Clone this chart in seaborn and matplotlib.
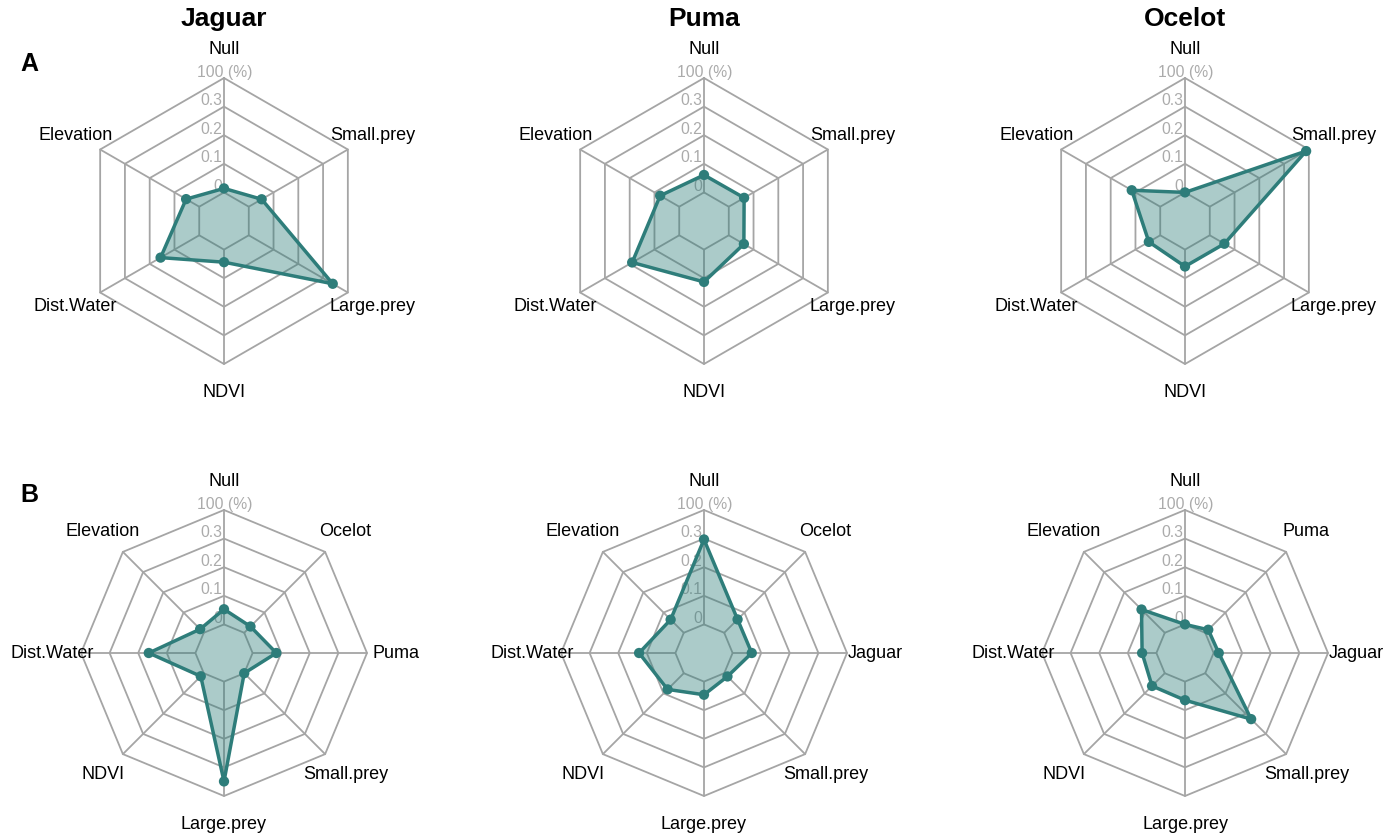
import numpy as np
import matplotlib
matplotlib.use("Agg")
import matplotlib.pyplot as plt
import seaborn as sns

# panel titles and row letters
species = ["Jaguar", "Puma", "Ocelot"]
rows = ["A", "B"]

# ring labels (inner to outer)
ring_labels = ["0", "0.1", "0.2", "0.3", "100 (%)"]
vmax = 0.4

# row A: habitat variables, counter-clockwise from top
vars_a = ["Null", "Elevation", "Dist.Water", "NDVI", "Large.prey", "Small.prey"]
jaguar_a = [0.014, 0.053, 0.156, 0.044, 0.339, 0.052]
puma_a = [0.061, 0.077, 0.190, 0.113, 0.061, 0.062]
ocelot_a = [0.000, 0.115, 0.046, 0.059, 0.059, 0.389]

# row B: habitat variables plus the other two cats
vars_b_jaguar = ["Null", "Elevation", "Dist.Water", "NDVI", "Large.prey", "Small.prey", "Puma", "Ocelot"]
jaguar_b = [0.053, 0.018, 0.163, 0.015, 0.349, 0.000, 0.083, 0.031]
vars_b_puma = ["Null", "Elevation", "Dist.Water", "NDVI", "Large.prey", "Small.prey", "Jaguar", "Ocelot"]
puma_b = [0.297, 0.065, 0.127, 0.080, 0.046, 0.016, 0.067, 0.066]
vars_b_ocelot = ["Null", "Elevation", "Dist.Water", "NDVI", "Large.prey", "Small.prey", "Jaguar", "Puma"]
ocelot_b = [0.000, 0.115, 0.050, 0.063, 0.065, 0.227, 0.018, 0.015]

panels = [
    [(vars_a, jaguar_a), (vars_a, puma_a), (vars_a, ocelot_a)],
    [(vars_b_jaguar, jaguar_b), (vars_b_puma, puma_b), (vars_b_ocelot, ocelot_b)],
]

sns.set_theme(style="white")
plt.rcParams["font.family"] = ["Liberation Sans", "DejaVu Sans"]

line_col = "#2e7d7a"
grid_col = "#a5a5a5"
tick_col = "#ababab"

W, H = 1398, 834
R = 143  # radius of outer ring in px
half = 1.3 * R
col_x = [224, 704, 1185]
row_y = [221, 653]

fig = plt.figure(figsize=(W / 100, H / 100), dpi=100)


def radar(ax, labels, values):
    n = len(labels)
    ang = np.pi / 2 + np.arange(n) * 2 * np.pi / n
    seg = len(ring_labels)
    # rings
    for k in range(1, seg + 1):
        r = k / seg
        xs = np.append(r * np.cos(ang), r * np.cos(ang[0]))
        ys = np.append(r * np.sin(ang), r * np.sin(ang[0]))
        ax.plot(xs, ys, color=grid_col, lw=1.3, zorder=1)
    # spokes from inner ring to outer ring
    r0 = 1 / seg
    for a in ang:
        ax.plot([r0 * np.cos(a), np.cos(a)], [r0 * np.sin(a), np.sin(a)],
                color=grid_col, lw=1.3, zorder=1)
    # ring labels on the top spoke
    for k, lab in enumerate(ring_labels, start=1):
        y = k / seg + 6 / R
        if lab == ring_labels[-1]:
            ax.text(1 / R, y, lab, ha="center", va="center", fontsize=11.3, color=tick_col, zorder=2)
        else:
            ax.text(-2 / R, y, lab, ha="right", va="center", fontsize=11.3, color=tick_col, zorder=2)
    # data polygon
    rr = r0 + (1 - r0) * np.asarray(values) / vmax
    px = rr * np.cos(ang)
    py = rr * np.sin(ang)
    ax.fill(px, py, color=line_col, alpha=0.4, lw=0, zorder=3)
    ax.plot(np.append(px, px[0]), np.append(py, py[0]), color=line_col, lw=2.5, zorder=4)
    sns.scatterplot(x=px, y=py, color=line_col, s=55, edgecolor="none", ax=ax, zorder=5)
    # variable labels
    for a, lab in zip(ang, labels):
        ax.text(1.2 * np.cos(a), 1.2 * np.sin(a), lab, ha="center", va="center", fontsize=13, color="black")


for i, row in enumerate(panels):
    for j, (labels, values) in enumerate(row):
        cx, cy = col_x[j], row_y[i]
        ax = fig.add_axes([(cx - half) / W, (H - cy - half) / H, 2 * half / W, 2 * half / H])
        ax.set_xlim(-1.3, 1.3)
        ax.set_ylim(-1.3, 1.3)
        ax.axis("off")
        radar(ax, labels, values)

for j, name in enumerate(species):
    fig.text(col_x[j] / W, 1 - 19 / H, name, ha="center", va="center",
             fontsize=19, fontweight="bold", color="black")

for y, letter in zip([64, 495], rows):
    fig.text(29 / W, 1 - y / H, letter, ha="center", va="center",
             fontsize=18, fontweight="bold", color="black")

fig.savefig("out.png", dpi=100)
